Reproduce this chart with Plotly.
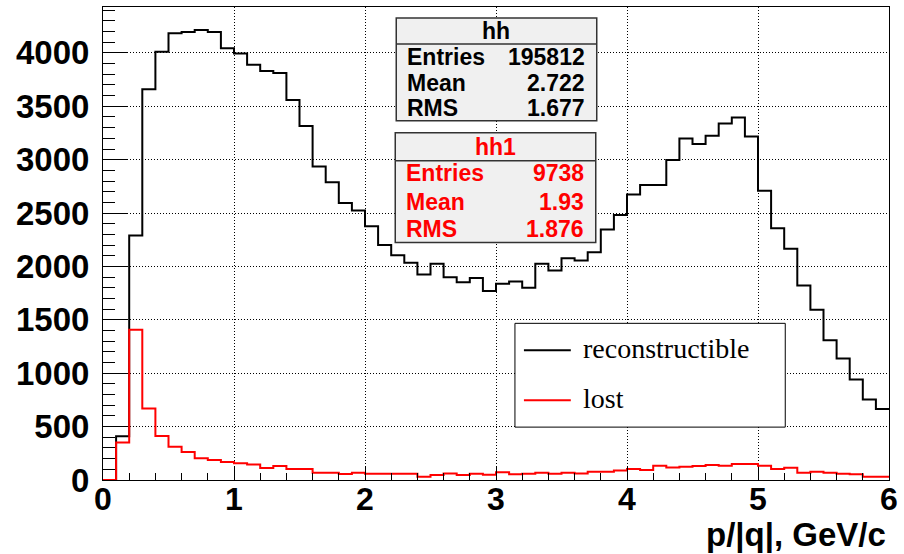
import numpy as np
import plotly.graph_objects as go

# histogram binning: 60 bins of 0.1 GeV/c from 0 to 6
x_min, x_max, n_bins = 0.0, 6.0, 60

reconstructible = [
    0, 410, 2290, 3660, 4010, 4185, 4195, 4215, 4195, 4044,
    3994, 3888, 3830, 3813, 3560, 3315, 2937, 2788, 2595, 2523,
    2377, 2200, 2105, 2034, 1925, 2025, 1900, 1853, 1891, 1769,
    1838, 1860, 1801, 2025, 1963, 2078, 2056, 2134, 2346, 2483,
    2673, 2763, 2763, 2997, 3199, 3146, 3224, 3339, 3396, 3218,
    2710, 2358, 2165, 1822, 1595, 1308, 1137, 941, 754, 664,
]
lost = [
    0, 352, 1408, 670, 411, 311, 262, 203, 187, 168,
    156, 146, 112, 131, 103, 103, 69, 69, 56, 69,
    59, 59, 59, 59, 31, 47, 62, 47, 59, 50,
    72, 53, 59, 69, 59, 69, 62, 78, 78, 90,
    103, 93, 134, 118, 125, 131, 140, 134, 150, 150,
    134, 103, 115, 69, 78, 69, 59, 53, 31, 31,
]

x_ticks = [0, 1, 2, 3, 4, 5, 6]
y_ticks = [0, 500, 1000, 1500, 2000, 2500, 3000, 3500, 4000]
y_max = 4430

stats_hh = [("Entries", "195812"), ("Mean", "2.722"), ("RMS", "1.677")]
stats_hh1 = [("Entries", "9738"), ("Mean", "1.93"), ("RMS", "1.876")]

W, H = 904, 554
L, R, T, B = 103, 13, 6, 74
SANS = "Liberation Sans, Arial, sans-serif"
SERIF = "Liberation Serif, Times New Roman, serif"


def fx(p):
    # pixel -> paper x
    return (p - L) / (W - L - R)


def fy(p):
    # pixel -> paper y
    return (H - B - p) / (H - T - B)


edges = np.linspace(x_min, x_max, n_bins + 1)

fig = go.Figure()
for vals, col in [(reconstructible, "black"), (lost, "#ff0000")]:
    fig.add_trace(go.Scatter(
        x=edges, y=list(vals) + [vals[-1]],
        mode="lines", line=dict(color=col, width=2, shape="hv"),
        showlegend=False, hoverinfo="skip",
    ))

shapes = []
annotations = []


def stat_box(x0, x1, y0, ydiv, y1, title, rows, row_y, color):
    shapes.append(dict(type="rect", xref="paper", yref="paper",
                       x0=fx(x0), x1=fx(x1), y0=fy(y1), y1=fy(y0),
                       fillcolor="#f0f0f0", line=dict(color="#333", width=1.5),
                       layer="above"))
    shapes.append(dict(type="line", xref="paper", yref="paper",
                       x0=fx(x0), x1=fx(x1), y0=fy(ydiv), y1=fy(ydiv),
                       line=dict(color="#333", width=1.5), layer="above"))
    f = dict(family=SANS, size=23, color=color, weight="bold")
    annotations.append(dict(text=title, xref="paper", yref="paper",
                            x=fx((x0 + x1) / 2), y=fy((y0 + ydiv) / 2),
                            xanchor="center", yanchor="middle",
                            showarrow=False, font=f))
    for (lab, val), ry in zip(rows, row_y):
        annotations.append(dict(text=lab, xref="paper", yref="paper",
                                x=fx(x0 + 9), y=fy(ry), xanchor="left",
                                yanchor="middle", showarrow=False, font=f))
        annotations.append(dict(text=val, xref="paper", yref="paper",
                                x=fx(x1 - 10), y=fy(ry), xanchor="right",
                                yanchor="middle", showarrow=False, font=f))


stat_box(397, 598, 17, 43, 120, "hh", stats_hh, [56, 82, 107], "black")
stat_box(396, 597, 132, 160, 242, "hh1", stats_hh1, [172, 201, 228], "#ff0000")

# legend box
shapes.append(dict(type="rect", xref="paper", yref="paper",
                   x0=fx(516), x1=fx(787), y0=fy(427), y1=fy(323),
                   fillcolor="white", line=dict(color="black", width=1),
                   layer="above"))
for name, col, ly in [("reconstructible", "black", 350), ("lost", "#ff0000", 400)]:
    shapes.append(dict(type="line", xref="paper", yref="paper",
                       x0=fx(525), x1=fx(572), y0=fy(ly), y1=fy(ly),
                       line=dict(color=col, width=2), layer="above"))
    annotations.append(dict(text=name, xref="paper", yref="paper",
                            x=fx(582), y=fy(ly - 2), xanchor="left",
                            yanchor="middle", showarrow=False,
                            font=dict(family=SERIF, size=28, color="black")))

annotations.append(dict(text="p/|q|, GeV/c", xref="paper", yref="paper",
                        x=fx(890), y=fy(535), xanchor="right", yanchor="middle",
                        showarrow=False,
                        font=dict(family=SANS, size=33, color="black", weight="bold")))

grid = dict(showgrid=True, gridcolor="black", griddash="1px,2px", gridwidth=1)

fig.update_layout(
    width=W, height=H,
    margin=dict(l=L, r=R, t=T, b=B, pad=0),
    paper_bgcolor="white", plot_bgcolor="white",
    shapes=shapes, annotations=annotations,
    xaxis=dict(range=[x_min, x_max], tickvals=x_ticks, ticks="inside",
               ticklen=13, tickwidth=1, tickcolor="black",
               minor=dict(dtick=0.2, ticks="inside", ticklen=7, tickcolor="black"),
               showline=True, linecolor="black", linewidth=1, mirror=True,
               zeroline=False, ticklabelstandoff=-9,
               tickfont=dict(family=SANS, size=32, color="black", weight="bold"),
               **grid),
    yaxis=dict(range=[0, y_max], tickvals=y_ticks, ticks="inside",
               ticklen=25, tickwidth=1, tickcolor="black",
               minor=dict(dtick=100, ticks="inside", ticklen=12, tickcolor="black"),
               showline=True, linecolor="black", linewidth=1, mirror=True,
               zeroline=False, ticklabelstandoff=6,
               tickfont=dict(family=SANS, size=33, color="black", weight="bold"),
               **grid),
)

# the page body has an 8px default margin; drop it so the figure fills the window
fig.write_html("out.html", config={"displayModeBar": False},
               post_script="document.body.style.margin='0';")
